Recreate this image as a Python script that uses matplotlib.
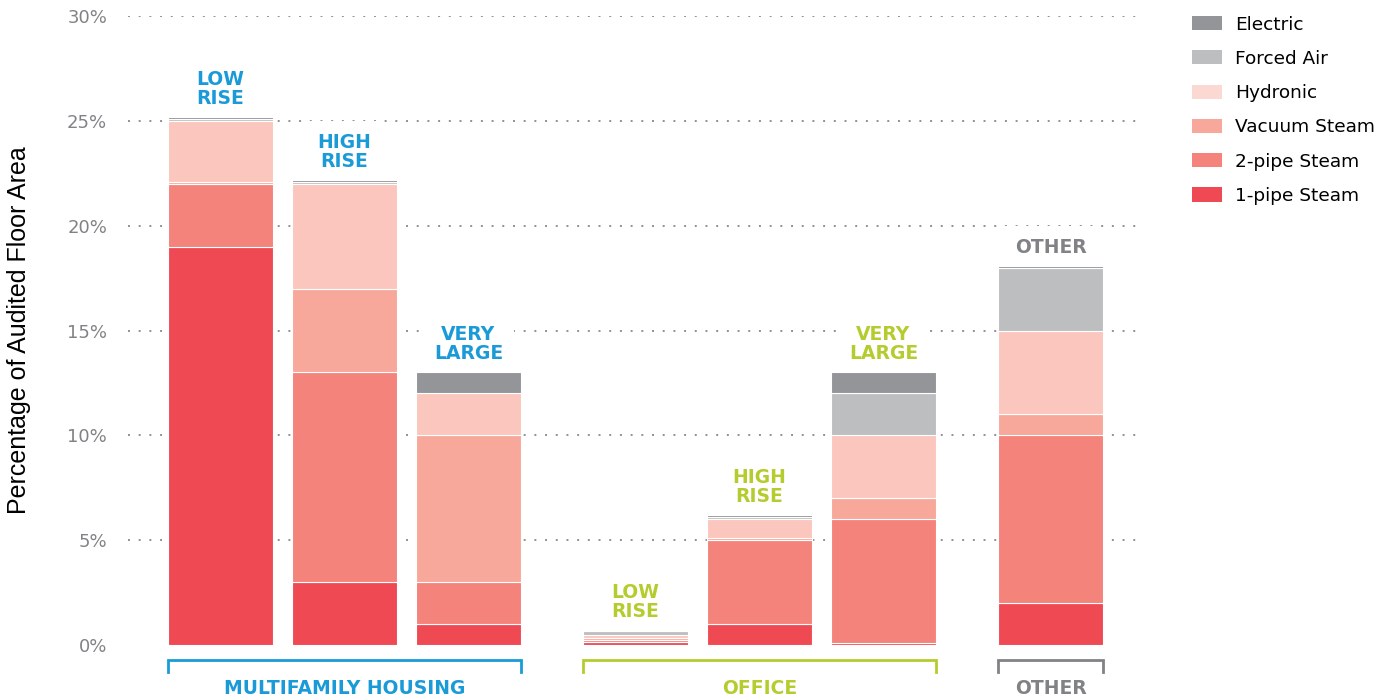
import matplotlib
matplotlib.use("Agg")
import matplotlib.pyplot as plt
from matplotlib.patches import Patch
import numpy as np

# heating system share of audited floor area (%), one entry per bar
bars = ["MF Low Rise", "MF High Rise", "MF Very Large",
        "Office Low Rise", "Office High Rise", "Office Very Large", "Other"]
bar_labels = ["LOW\nRISE", "HIGH\nRISE", "VERY\nLARGE",
              "LOW\nRISE", "HIGH\nRISE", "VERY\nLARGE", "OTHER"]
bar_group = [0, 0, 0, 1, 1, 1, 2]

one_pipe = [19.0, 3.0, 1.0, 0.15, 1.0, 0.1, 2.0]
two_pipe = [3.0, 10.0, 2.0, 0.1, 4.0, 5.9, 8.0]
vacuum = [0.1, 4.0, 7.0, 0.1, 0.1, 1.0, 1.0]
hydronic = [2.9, 5.0, 2.0, 0.15, 0.9, 3.0, 4.0]
forced_air = [0.1, 0.1, 0.0, 0.15, 0.1, 2.0, 3.0]
electric = [0.1, 0.1, 1.0, 0.05, 0.1, 1.0, 0.1]

groups = ["MULTIFAMILY HOUSING", "OFFICE", "OTHER"]
group_colors = ["#1A9BD7", "#B5CC2E", "#808285"]

series = [
    ("1-pipe Steam", one_pipe, "#EF4A54"),
    ("2-pipe Steam", two_pipe, "#F3837B"),
    ("Vacuum Steam", vacuum, "#F7A89A"),
    ("Hydronic", hydronic, "#FAC6BD"),
    ("Forced Air", forced_air, "#BDBEC0"),
    ("Electric", electric, "#939598"),
]

fig = plt.figure(figsize=(13.88, 6.98), dpi=100)
ax = fig.add_axes([0.0922, 0.0759, 0.7313, 0.9011])

x = np.arange(len(bars)) + np.array(bar_group) * 0.347
width = 0.847

bottom = np.zeros(len(bars))
for name, vals, col in series:
    vals = np.array(vals)
    ax.bar(x, vals, width, bottom=bottom, color=col, edgecolor="white",
           linewidth=0.8, label=name, zorder=3)
    bottom += vals

# labels above each bar (white box hides the dotted grid behind them)
for xi, top, lab, g in zip(x, bottom, bar_labels, bar_group):
    ax.annotate(lab, (xi, top), xytext=(0, 9), textcoords="offset pixels",
                ha="center", va="bottom", fontsize=13.5, color=group_colors[g],
                fontweight="semibold", family="DejaVu Sans", linespacing=1.0,
                zorder=2.5,
                bbox=dict(boxstyle="square,pad=0.6", fc="white", ec="none"))

# group brackets under the axis
for gi, (gname, gcol) in enumerate(zip(groups, group_colors)):
    xs = x[np.array(bar_group) == gi]
    x0, x1 = xs.min() - width / 2, xs.max() + width / 2
    ax.plot([x0, x0, x1, x1], [-1.3, -0.72, -0.72, -1.3], color=gcol,
            lw=2, clip_on=False, solid_joinstyle="miter")
    ax.text((x0 + x1) / 2, -2.05, gname, ha="center", va="center",
            fontsize=13.5, color=gcol, fontweight="semibold", clip_on=False)

ax.set_xlim(-0.746, 7.44)
ax.set_ylim(0, 30)
ax.set_yticks(np.arange(0, 31, 5))
ax.set_yticklabels([f"{v}%" for v in range(0, 31, 5)])
ax.tick_params(axis="y", length=0, pad=15, labelsize=13, labelcolor="#808285")
ax.set_xticks([])
for s in ax.spines.values():
    s.set_visible(False)
for v in range(5, 31, 5):
    ax.axhline(v, color="#8f9093", lw=1.4, linestyle=(0, (1, 4.5)), zorder=1)

ax.set_ylabel("Percentage of Audited Floor Area", fontsize=18,
              family="Liberation Sans", labelpad=26, color="black")

handles = [Patch(facecolor=c, edgecolor="none", label=n) for n, _, c in series[::-1]]
handles[2] = Patch(facecolor="#FBD8D1", edgecolor="none", label="Hydronic")
fig.legend(handles=handles, loc="upper left", bbox_to_anchor=(0.8467, 1.0015),
           frameon=False, fontsize=13.3, handlelength=1.62, handleheight=0.8,
           handletextpad=0.72, labelspacing=0.88)

fig.savefig("out.png", dpi=100)
